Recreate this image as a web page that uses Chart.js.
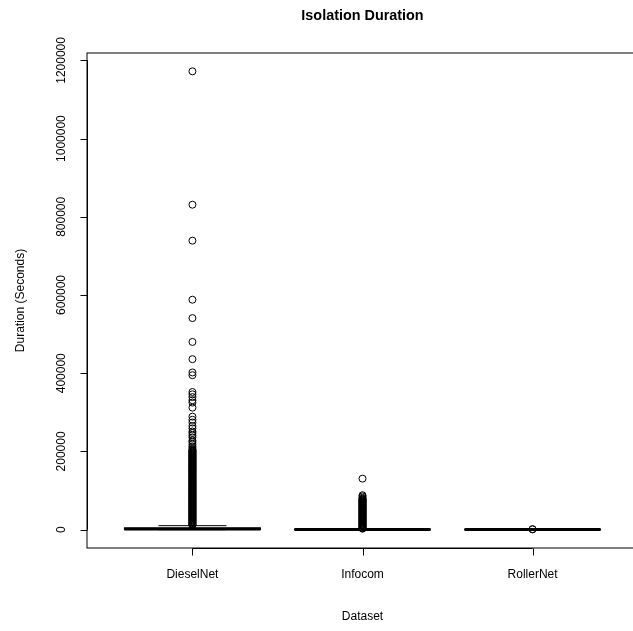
<!DOCTYPE html>
<html>
<head>
<meta charset="utf-8">
<script src="https://cdn.jsdelivr.net/npm/chart.js@4.4.1/dist/chart.umd.min.js"></script>
<style>
  html, body { margin: 0; padding: 0; background: #fff; overflow: hidden; }
  #wrap { width: 645px; height: 631px; }
</style>
</head>
<body>
<div id="wrap"><canvas id="isolation"></canvas></div>
<script>
var categories = ["DieselNet", "Infocom", "RollerNet"];
var yTicks = [0, 200000, 400000, 600000, 800000, 1000000, 1200000];

// box statistics (seconds)
var whiskerLow = [0, 0, 0];
var q1 = [300, 60, 20];
var median = [1800, 350, 100];
var q3 = [4500, 900, 260];
var whiskerHigh = [10200, 2200, 650];

var dieselOutliers = [1172000, 831000, 739000, 588000, 541000, 480000, 436000, 402000, 395000,
  352000, 346000, 339000, 331000, 325000, 312000, 289000, 281000, 274000, 265000, 259000,
  251000, 247000, 241000, 236000, 228000, 224000, 218000, 213000, 209000,
  205000, 203500, 201800, 200500, 199000, 197600, 196100, 194500, 193200, 191800, 190100,
  188700, 187400, 185900, 184300, 183000, 181600, 180000, 178700, 177200, 175800, 174100,
  172900, 171300, 169800, 168500, 167000, 165600, 164100, 162700, 161200, 159900, 158300,
  156800, 155500, 154000, 152600, 151100, 149700, 148200, 146900, 145300, 143800, 142500,
  141000, 139600, 138100, 136700, 135200, 133900, 132300, 130800, 129500, 128000, 126600,
  125100, 123700, 122200, 120900, 119300, 117800, 116500, 115000, 113600, 112100, 110700,
  109200, 107900, 106300, 104800, 103500, 102000, 100600, 99100, 97700, 96200, 94900, 93300,
  91800, 90500, 89000, 87600, 86100, 84700, 83200, 81900, 80300, 78800, 77500, 76000, 74600,
  73100, 71700, 70200, 68900, 67300, 65800, 64500, 63000, 61600, 60100, 58700, 57200, 55900,
  54300, 52800, 51500, 50000, 48600, 47100, 45700, 44200, 42900, 41300, 39800, 38500, 37000,
  35600, 34100, 32700, 31200, 29900, 28300, 26800, 25500, 24000, 22600, 21100, 19700, 18200,
  16900, 15300, 13800, 12500, 11200];
var infocomOutliers = [130500, 88000, 85000, 81500, 79000, 77800, 76500, 75100, 73900, 72600,
  71200, 70000, 68700, 67300, 66100, 64800, 63400, 62200, 60900, 59500, 58300, 57000, 55600,
  54400, 53100, 51700, 50500, 49200, 47800, 46600, 45300, 43900, 42700, 41400, 40000, 38800,
  37500, 36100, 34900, 33600, 32200, 31000, 29700, 28300, 27100, 25800, 24400, 23200, 21900,
  20500, 19300, 18000, 16600, 15400, 14100, 12700, 11500, 10200, 8800, 7600, 6300, 4900,
  3700, 2500];
var rollerOutliers = [1300, 800];

var outlierPoints = [];
[dieselOutliers, infocomOutliers, rollerOutliers].forEach(function(list, i) {
  list.forEach(function(v) { outlierPoints.push({x: i + 1, y: v}); });
});

var FONT = "Liberation Sans, Arial, Helvetica, sans-serif";

var boxPlugin = {
  id: "rbox",
  beforeDatasetsDraw: function(chart) {
    var ctx = chart.ctx, xs = chart.scales.x, ys = chart.scales.y;
    ctx.save();
    ctx.strokeStyle = "#000";
    for (var i = 0; i < categories.length; i++) {
      var cx = xs.getPixelForValue(i + 1);
      var half = xs.getPixelForValue(1.4) - xs.getPixelForValue(1);
      var yq1 = ys.getPixelForValue(q1[i]), yq3 = ys.getPixelForValue(q3[i]);
      var ymed = ys.getPixelForValue(median[i]);
      var ylo = ys.getPixelForValue(whiskerLow[i]), yhi = ys.getPixelForValue(whiskerHigh[i]);
      // whiskers
      ctx.lineWidth = 1;
      ctx.setLineDash([4, 3]);
      ctx.beginPath();
      ctx.moveTo(cx, yq3); ctx.lineTo(cx, yhi);
      ctx.moveTo(cx, yq1); ctx.lineTo(cx, ylo);
      ctx.stroke();
      ctx.setLineDash([]);
      // staples
      ctx.beginPath();
      ctx.moveTo(cx - half / 2, yhi); ctx.lineTo(cx + half / 2, yhi);
      ctx.moveTo(cx - half / 2, ylo); ctx.lineTo(cx + half / 2, ylo);
      ctx.stroke();
      // box
      ctx.strokeRect(cx - half, yq3, half * 2, yq1 - yq3);
      // median
      ctx.lineWidth = 3;
      ctx.beginPath();
      ctx.moveTo(cx - half, ymed); ctx.lineTo(cx + half, ymed);
      ctx.stroke();
    }
    ctx.restore();
  },
  afterDraw: function(chart) {
    var ctx = chart.ctx, xs = chart.scales.x, ys = chart.scales.y, a = chart.chartArea;
    ctx.save();
    // frame
    ctx.strokeStyle = "#000";
    ctx.lineWidth = 1;
    ctx.strokeRect(a.left, a.top, a.right - a.left, a.bottom - a.top);
    // y axis
    var yl = Math.round(a.left) + 0.5;
    ctx.beginPath();
    ctx.moveTo(yl, ys.getPixelForValue(yTicks[0]));
    ctx.lineTo(yl, ys.getPixelForValue(yTicks[yTicks.length - 1]));
    yTicks.forEach(function(t) {
      var py = Math.round(ys.getPixelForValue(t)) + 0.5;
      ctx.moveTo(yl - 7, py); ctx.lineTo(yl, py);
    });
    // x axis
    var xb = Math.round(a.bottom) + 0.5;
    ctx.moveTo(xs.getPixelForValue(1), xb);
    ctx.lineTo(xs.getPixelForValue(categories.length), xb);
    categories.forEach(function(c, i) {
      var px = Math.round(xs.getPixelForValue(i + 1)) + 0.5;
      ctx.moveTo(px, xb); ctx.lineTo(px, xb + 7);
    });
    ctx.stroke();

    ctx.fillStyle = "#000";
    ctx.font = "12px " + FONT;
    ctx.textAlign = "center";
    ctx.textBaseline = "middle";
    categories.forEach(function(c, i) {
      ctx.fillText(c, xs.getPixelForValue(i + 1), 575);
    });
    yTicks.forEach(function(t) {
      ctx.save();
      ctx.translate(62, ys.getPixelForValue(t));
      ctx.rotate(-Math.PI / 2);
      ctx.fillText(String(t), 0, 0);
      ctx.restore();
    });
    var midX = (a.left + a.right) / 2;
    ctx.fillText("Dataset", midX, 617);
    ctx.save();
    ctx.translate(21, (a.top + a.bottom) / 2);
    ctx.rotate(-Math.PI / 2);
    ctx.fillText("Duration (Seconds)", 0, 0);
    ctx.restore();
    ctx.font = "bold 14.4px " + FONT;
    ctx.fillText("Isolation Duration", midX, 16);
    ctx.restore();
  }
};

var chart = new Chart(document.getElementById("isolation"), {
  type: "scatter",
  data: {
    datasets: [{
      label: "outliers",
      data: outlierPoints,
      pointStyle: "circle",
      pointRadius: 3.5,
      pointHoverRadius: 3.5,
      pointBorderWidth: 1,
      pointBorderColor: "#000",
      pointBackgroundColor: "rgba(0,0,0,0)"
    }]
  },
  options: {
    responsive: true,
    maintainAspectRatio: false,
    animation: false,
    layout: { padding: { left: 87, top: 53, right: 7, bottom: 83 } },
    plugins: { legend: { display: false }, tooltip: { enabled: false }, title: { display: false } },
    scales: {
      x: { type: "linear", min: 0.38, max: 3.62, display: false },
      y: { type: "linear", min: -46900, max: 1218900, display: false }
    }
  },
  plugins: [boxPlugin]
});
</script>
</body>
</html>
